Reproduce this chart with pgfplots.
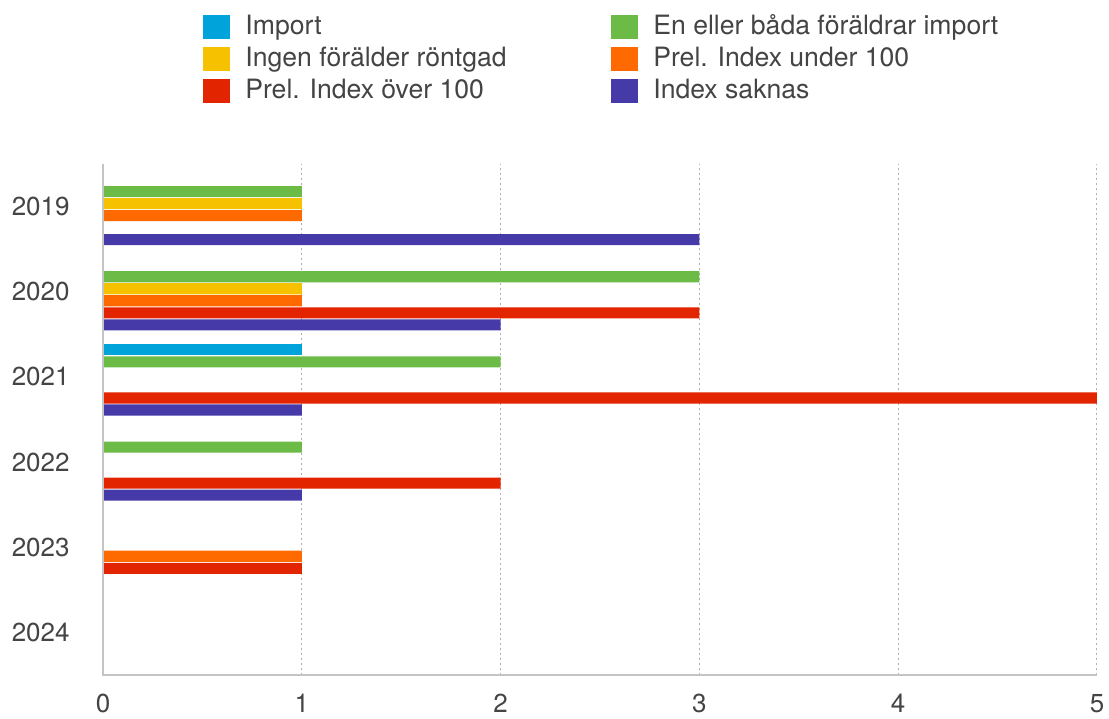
\documentclass[border=0pt]{standalone}
\usepackage{fontspec}
\setmainfont{TeX Gyre Heros}
\usepackage{pgfplots}
\pgfplotsset{compat=1.18}
\definecolor{cImport}{HTML}{00A3DA}
\definecolor{cGreen}{HTML}{6CBB46}
\definecolor{cYellow}{HTML}{F6C200}
\definecolor{cOrange}{HTML}{FF6A00}
\definecolor{cRed}{HTML}{E22400}
\definecolor{cPurple}{HTML}{453AA7}
\definecolor{txt}{HTML}{444444}
\definecolor{gridgray}{HTML}{B0B0B0}
\definecolor{axisgray}{HTML}{C4C4C4}
\pgfplotsset{sq/.style={legend image code/.code={\fill[##1] (0pt,-6pt) rectangle (13.5pt,6pt); \path (19pt,0pt);}}}
\begin{document}
\begin{tikzpicture}
\path[use as bounding box] (-51.5pt,-21.5pt) rectangle (503pt,337.5pt);
\begin{axis}[
 at={(0,0)}, anchor=south west,
 scale only axis, width=497pt, height=255.5pt,
 xbar, bar width=0.13,
 xmin=0, xmax=5, ymin=-0.5, ymax=5.5,
 xtick={0,...,5}, ytick={0,...,5},
 yticklabels={2024,2023,2022,2021,2020,2019},
 major tick length=0pt,
 axis line style={draw=none},
 clip=false,
 xmajorgrids,
 major grid style={color=gridgray, line width=0.5pt, dash pattern=on 1pt off 1.5pt},
 /pgf/number format/assume math mode=true,
 tick label style={font=\fontsize{13}{15}\selectfont, text=txt, inner sep=0pt},
 xticklabel style={anchor=north, text height=9.4pt, text depth=0pt},
 xticklabel shift=9pt,
 yticklabel shift=16.5pt,
 legend columns=2,
 legend cell align=left,
 legend style={at={(0.1006,1.3006)}, anchor=north west, draw=none, fill=none,
   inner sep=0pt, font=\fontsize{13.3}{15}\selectfont, text=txt,
   nodes={inner sep=2pt, text height=9.6pt, text depth=2.4pt}},
]
\addplot[fill=cImport, draw=none, bar shift=0.3177, sq] coordinates {(1,3)};
\addlegendentry{\makebox[181pt][l]{Import}}
\addplot[fill=cGreen, draw=none, bar shift=0.1765, sq] coordinates {(1,5) (3,4) (2,3) (1,2)};
\addlegendentry{En eller båda föräldrar import}
\addplot[fill=cYellow, draw=none, bar shift=0.0353, sq] coordinates {(1,5) (1,4)};
\addlegendentry{\makebox[181pt][l]{Ingen förälder röntgad}}
\addplot[fill=cOrange, draw=none, bar shift=-0.1059, sq] coordinates {(1,5) (1,4) (1,1)};
\addlegendentry{Prel. Index under 100}
\addplot[fill=cRed, draw=none, bar shift=-0.2471, sq] coordinates {(3,4) (5,3) (2,2) (1,1)};
\addlegendentry{\makebox[181pt][l]{Prel. Index över 100}}
\addplot[fill=cPurple, draw=none, bar shift=-0.3882, sq] coordinates {(3,5) (2,4) (1,3) (1,2)};
\addlegendentry{Index saknas}
\draw[axisgray, line width=1pt] (rel axis cs:0,1) -- (rel axis cs:0,0) -- (rel axis cs:1,0);
\end{axis}
\end{tikzpicture}
\end{document}
